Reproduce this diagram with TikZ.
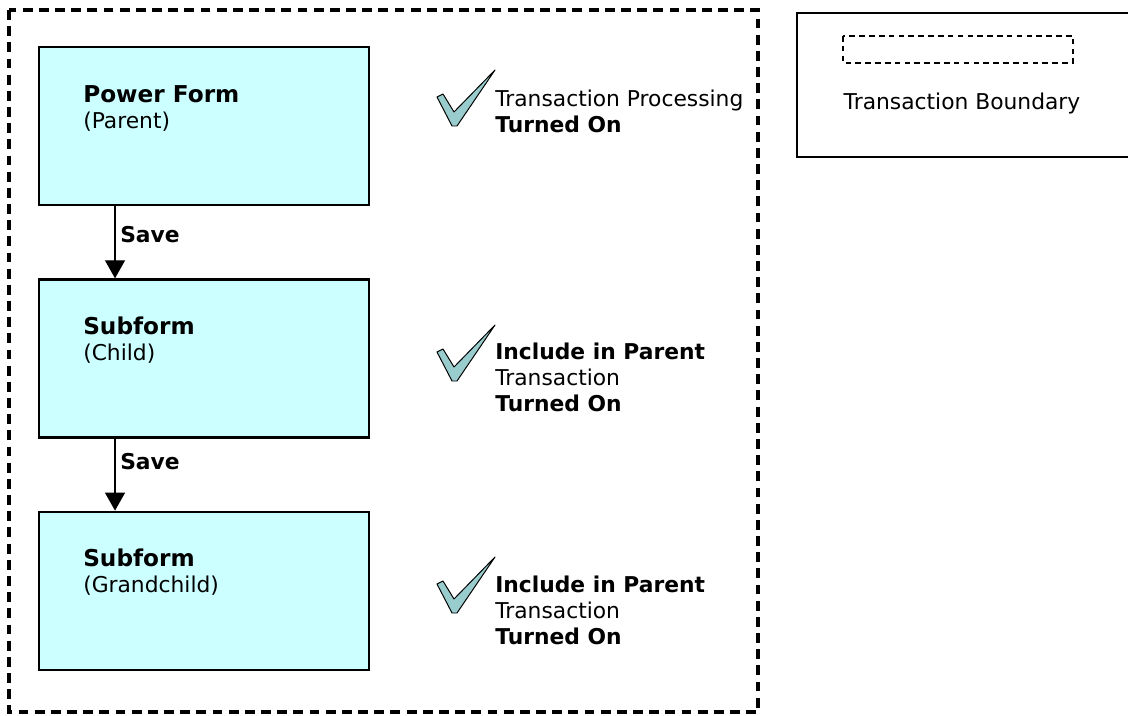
\documentclass[tikz,border=0pt]{standalone}
\usepackage{fontspec}
\setmainfont{DejaVu Sans}
\usetikzlibrary{arrows.meta, positioning}

\definecolor{formfill}{RGB}{204,255,255}
\definecolor{tickfill}{RGB}{153,204,204}

\begin{document}
\begin{tikzpicture}[
  x=0.025cm, y=-0.025cm,
  font=\fontsize{15.5}{18.5}\selectfont,
  form/.style={draw, line width=1.6pt, fill=formfill, minimum width=8.25cm, minimum height=3.95cm, inner sep=0pt},
  title/.style={anchor=west, align=left, inner sep=0pt, font=\fontsize{16.5}{18.5}\selectfont},
  flow/.style={line width=0.9pt, -{Triangle[width=0.5cm, length=0.45cm]}},
  checkmark/.style={draw, line width=0.7pt, fill=tickfill, line join=round},
  note/.style={anchor=west, align=left, inner sep=0pt},
  boundary/.style={line width=2.3pt, dash pattern=on 7pt off 4.5pt},
]
\useasboundingbox (0,0) rectangle (1128,715);
% transaction boundary round the three forms
\draw[boundary] (9,10) rectangle (758,712);
\node[form, anchor=north west] (pform) at (38,46) {};
\node[form, below=1.8cm of pform] (child) {};
\node[form, below=1.8cm of child] (gchild) {};
\node[title] (pformtxt) at (83,108) {{\bfseries Power Form}\\{\fontsize{15.5}{18.5}\selectfont(Parent)}};
\node[title] (childtxt) at (83,340) {{\bfseries Subform}\\{\fontsize{15.5}{18.5}\selectfont(Child)}};
\node[title] (gchildtxt) at (83,572) {{\bfseries Subform}\\{\fontsize{15.5}{18.5}\selectfont(Grandchild)}};
% save arrows down the chain
\draw[flow] ([xshift=1.925cm]pform.south west) -- ([xshift=1.925cm]child.north west);
\draw[flow] ([xshift=1.925cm]child.south west) -- ([xshift=1.925cm]gchild.north west);
\node[note, font=\fontsize{15.5}{18.5}\selectfont\bfseries] (save1) at (120,235) {Save};
\node[note, font=\fontsize{15.5}{18.5}\selectfont\bfseries] (save2) at (120,462) {Save};
% ticks and settings
\foreach \y in {70,325,557}{
  \draw[checkmark, shift={(437,\y)}] (0,27) -- (6,24) -- (17,42) -- (58,0) -- (20,56) -- (15,56) -- cycle;
}
\node[note] (set1) at (495,111.5) {Transaction Processing\\{\bfseries Turned On}};
\node[note] (set2) at (495,377) {{\bfseries Include in Parent}\\Transaction\\{\bfseries Turned On}};
\node[note] (set3) at (495,610) {{\bfseries Include in Parent}\\Transaction\\{\bfseries Turned On}};
% legend
\draw[line width=1.6pt] (1140,13) -| (797,157) -- (1140,157);
\draw[line width=1pt, dash pattern=on 4pt off 3pt] (843,36) rectangle (1073,63);
\node (legendtxt) at (962,103) {Transaction Boundary};
\end{tikzpicture}
\end{document}
